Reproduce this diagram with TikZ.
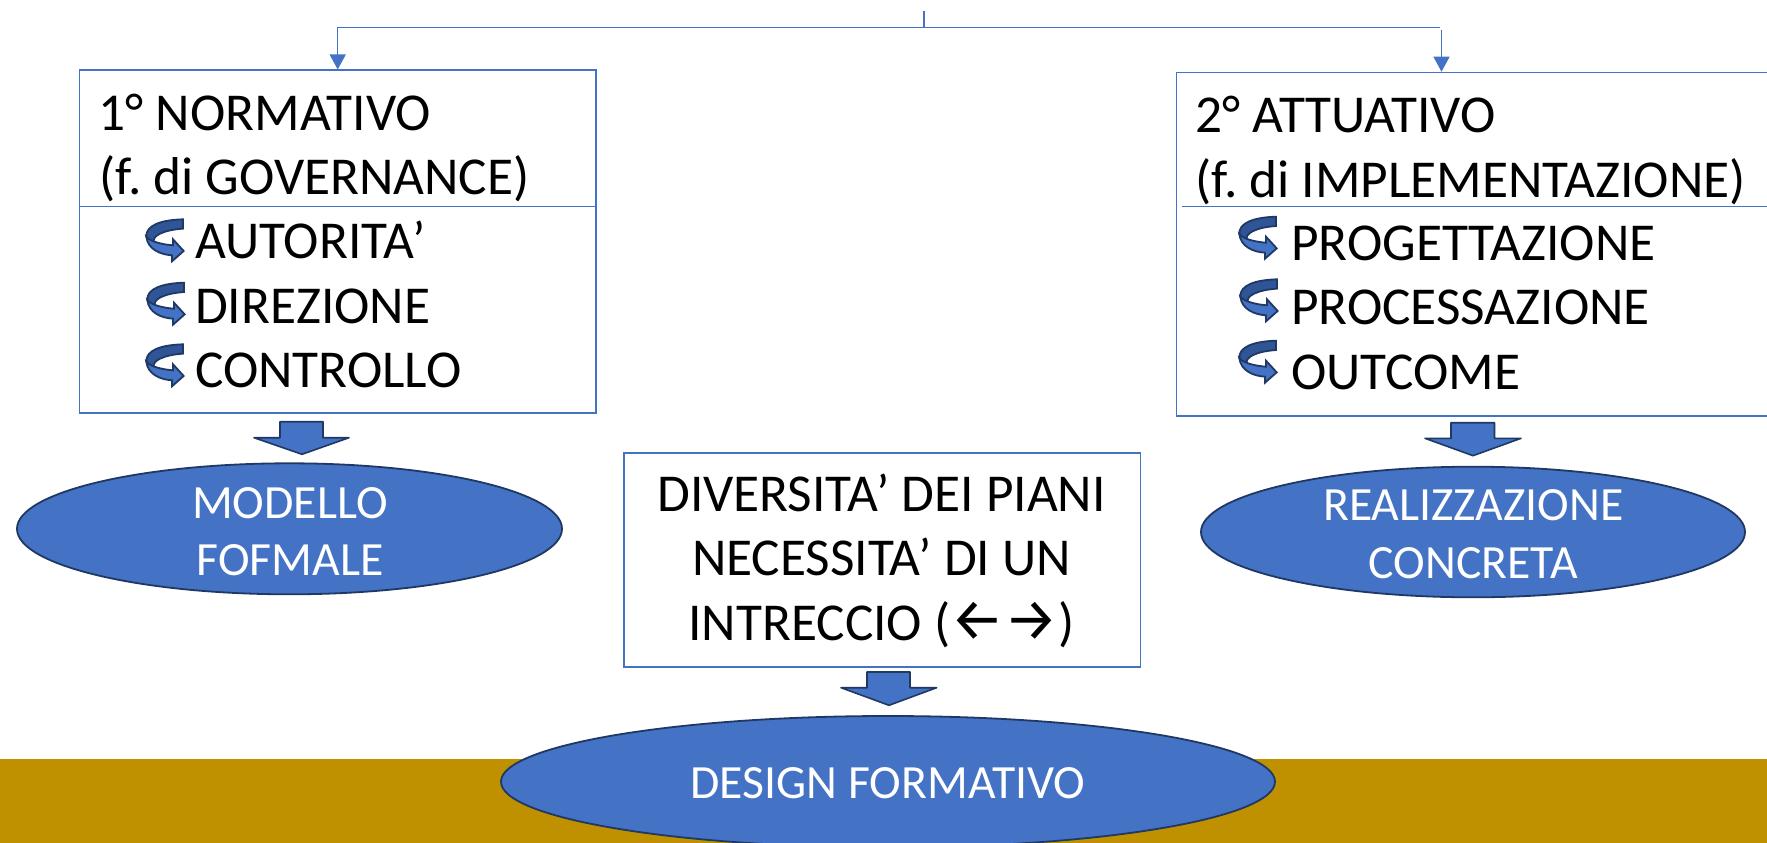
\documentclass[tikz,border=0pt]{standalone}
\usepackage{fontspec}
\setmainfont{Carlito}
\newfontfamily\arrowfont{Fira Sans}
\usetikzlibrary{arrows.meta,shapes.geometric}
\definecolor{offblue}{HTML}{4472C4}
\definecolor{offdark}{HTML}{1F3864}
\definecolor{offmid}{HTML}{2F5597}
\definecolor{offgold}{HTML}{BF9000}
\frenchspacing
\tikzset{
  x=1pt,y=-1pt,
  planbox/.style={draw=offblue,line width=1.8pt,fill=white,rectangle,inner sep=0pt,anchor=north west},
  oval/.style={ellipse,draw=offdark,line width=1.8pt,fill=offblue,inner sep=0pt},
  bigtxt/.style={font=\fontsize{53.3}{64}\selectfont,inner sep=0pt,text=black},
  lefttxt/.style={bigtxt,anchor=base west},
  midtxt/.style={bigtxt,anchor=base},
  ovaltxt/.style={font=\fontsize{47.7}{57}\selectfont,inner sep=0pt,text=white,anchor=base},
  link/.style={draw=offblue,line width=1.3pt},
  linkarrow/.style={link,-{Triangle[length=15pt,width=16pt]}},
  fatarrow/.style={draw=offdark,line width=1.6pt,fill=offblue,line join=round},
  bandback/.style={draw=offdark,line width=1.8pt,fill=offmid},
  bandfront/.style={draw=offdark,line width=1.8pt,fill=offblue},
  curlarrow/.pic={
    \begin{scope}[x=0.3333pt,y=-0.3333pt,shift={(-158,-60)}]
      \path[bandback] (158,60) .. controls (92,62) and (46,78) .. (48,112)
        .. controls (50,122) and (60,130) .. (72,132)
        .. controls (60,110) and (100,92) .. (158,88) -- cycle;
      \path[bandfront] (48,112) .. controls (52,150) and (90,166) .. (125,168)
        -- (125,186) -- (160,155) -- (128,120) -- (128,138)
        .. controls (100,136) and (60,128) .. (48,112) -- cycle;
    \end{scope}
  }
}
\begin{document}
\begin{tikzpicture}
\useasboundingbox (0,0) rectangle (1767,843);
\fill[white] (0,0) rectangle (1767,843);
\fill[offgold] (0,759) rectangle (1767,843);

% boxes
\node[planbox,minimum width=516.4pt,minimum height=342.7pt] (lbox) at (78.6,69.5) {};
\node[planbox,minimum width=620pt,minimum height=343pt] (rbox) at (1175.5,71.7) {};
\node[planbox,minimum width=516.7pt,minimum height=213.7pt] (cbox) at (622.8,452) {};

% dividers
\coordinate (ldiv) at (78.6,206.7);
\coordinate (rdiv) at (1182,206.7);
\draw[link] (ldiv) -- (ldiv -| lbox.east);
\draw[link] (rdiv) -- (rdiv -| rbox.east);

% connectors
\coordinate (stem) at (924,11);
\coordinate (junc) at (924,27.3);
\coordinate (rcorner) at (1440,27.3);
\coordinate (rstart) at (1441.5,30);
\draw[link] (stem) -- (junc);
\draw[link] (rcorner) -- (junc -| lbox.north);
\draw[linkarrow] (junc -| lbox.north) -- (lbox.north);
\draw[linkarrow] (rstart) -- (rstart |- rbox.north);

% left box text
\node[lefttxt] (l1) at (98.5,130) {1° NORMATIVO};
\node[lefttxt] (l2) at (99,194) {(f. di GOVERNANCE)};
\node[lefttxt] (l3) at (195,258) {AUTORITA’};
\node[lefttxt] (l4) at (195,323) {DIREZIONE};
\node[lefttxt] (l5) at (195,387) {CONTROLLO};
\pic at (183,219.3) {curlarrow};
\pic at (184,282.7) {curlarrow};
\pic at (183,344.3) {curlarrow};

% right box text
\node[lefttxt] (r1) at (1195,132.5) {2° ATTUATIVO};
\node[lefttxt] (r2) at (1195,197) {(f. di IMPLEMENTAZIONE)};
\node[lefttxt] (r3) at (1291,260) {PROGETTAZIONE};
\node[lefttxt] (r4) at (1291,324.5) {PROCESSAZIONE};
\node[lefttxt] (r5) at (1291,389) {OUTCOME};
\pic at (1276,216.7) {curlarrow};
\pic at (1277,279.3) {curlarrow};
\pic at (1276,340.7) {curlarrow};

% centre box text
\node[midtxt] (c1) at (881.5,511.7) {DIVERSITA’ DEI PIANI};
\node[midtxt] (c2) at (881.5,575.7) {NECESSITA’ DI UN};
\node[midtxt] (c3) at (881.5,640) {INTRECCIO ({\arrowfont\fontsize{60}{64}\selectfont ←→})};

% fat arrows
\draw[fatarrow] (280,421.7) -- (323,421.7) -- (323,437.7) -- (349,437.7) -- (302,454.3) -- (254,437.7) -- (280,437.7) -- cycle;
\draw[fatarrow] (1451,422.7) -- (1494.5,422.7) -- (1494.5,438.3) -- (1521,438.3) -- (1473,455.7) -- (1425,438.3) -- (1451,438.3) -- cycle;
\draw[fatarrow] (867,672) -- (910,672) -- (910,687.7) -- (936.6,687.7) -- (889,705.3) -- (841,687.7) -- (867,687.7) -- cycle;

% ovals
\node[oval,minimum width=545pt,minimum height=131pt] (lov) at (289.5,528.8) {};
\node[oval,minimum width=544pt,minimum height=130.6pt] (rov) at (1473,532) {};
\node[oval,minimum width=774pt,minimum height=131.4pt] (cov) at (888,781.7) {};
\node[ovaltxt] (lo1) at (290,518.5) {MODELLO};
\node[ovaltxt] (lo2) at (290,575) {FOFMALE};
\node[ovaltxt] (ro1) at (1473.4,520.5) {REALIZZAZIONE};
\node[ovaltxt] (ro2) at (1473.4,578) {CONCRETA};
\node[ovaltxt] (co1) at (888,798) {DESIGN FORMATIVO};
\end{tikzpicture}
\end{document}
